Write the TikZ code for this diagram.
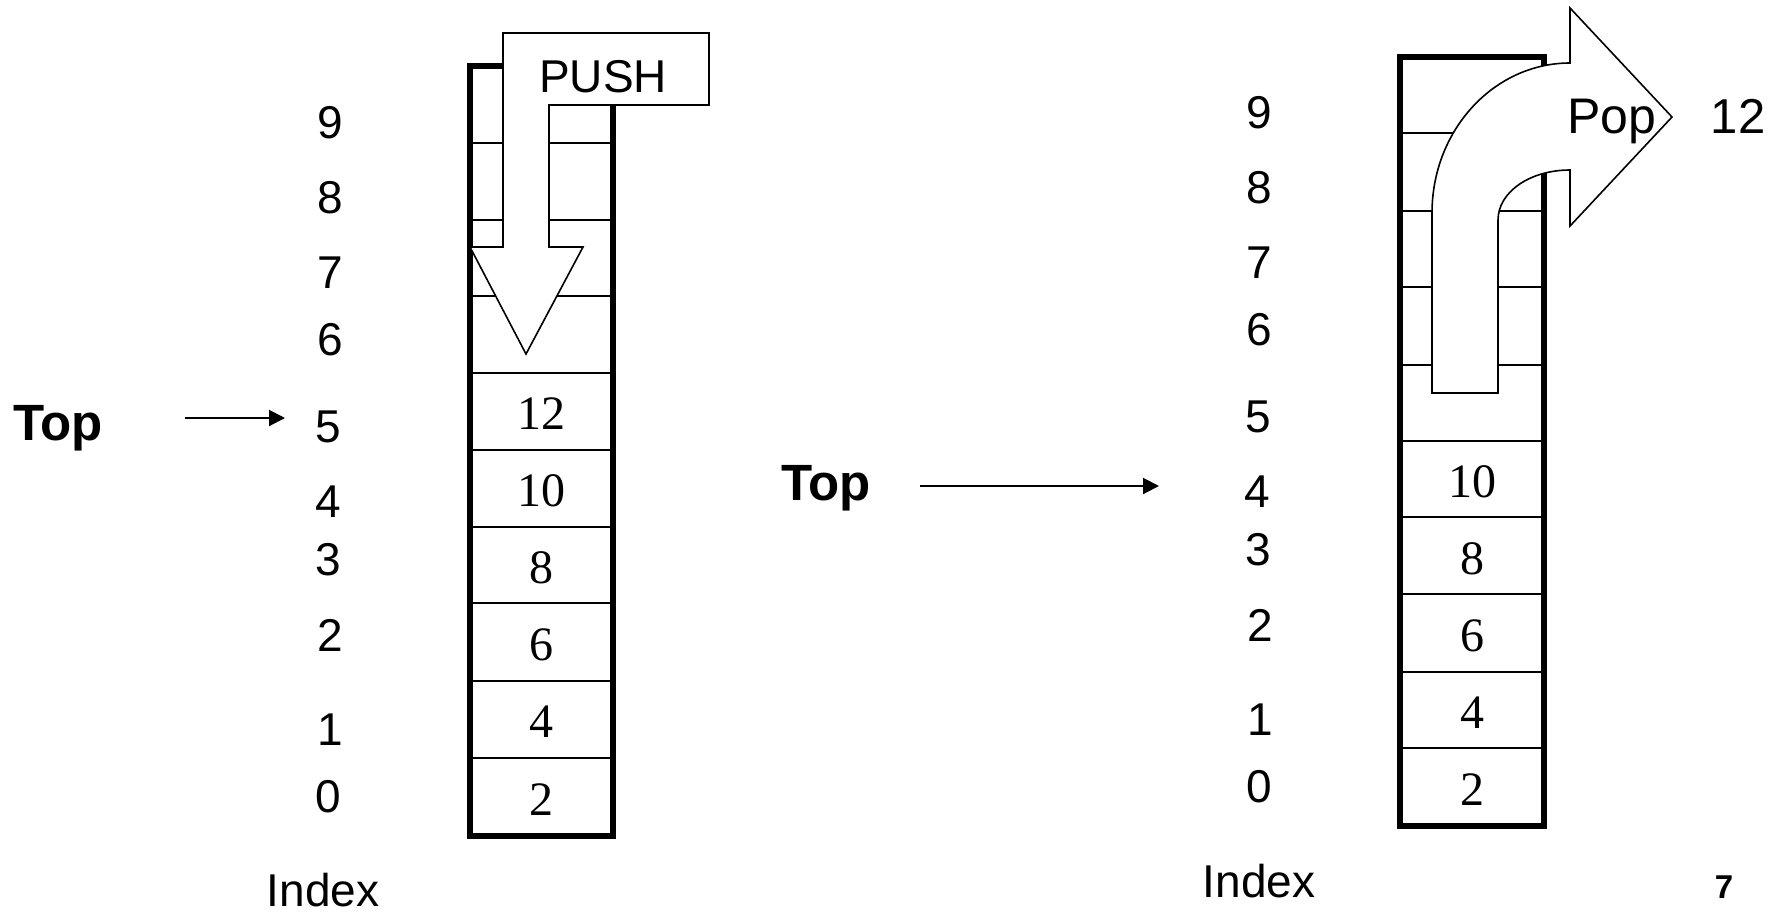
\documentclass[tikz,border=0pt]{standalone}
\usepackage{fontspec}
\setmainfont{Liberation Serif}
\setsansfont{Liberation Sans}
\usetikzlibrary{arrows.meta}
\begin{document}
\begin{tikzpicture}[x=0.5pt,y=-0.5pt,
  idx/.style={font=\sffamily\fontsize{23}{23}\selectfont, inner sep=0pt},
  val/.style={font=\rmfamily\fontsize{24}{24}\selectfont, inner sep=0pt},
  toplabel/.style={font=\sffamily\bfseries\fontsize{25.5}{25.5}\selectfont, inner sep=0pt, anchor=base},
  frame/.style={line width=2.8pt},
  cellline/.style={line width=1pt},
  bigarrow/.style={draw, fill=white, line width=0.8pt, line join=miter},
  pointer/.style={line width=1pt, -{Triangle[length=8pt,width=8pt]}}]

\useasboundingbox (0,0) rectangle (1781,911);

% ---------- left stack (before pop) ----------
\foreach \y in {143,220,296,373,450,527,603,681,758}
  \draw[cellline] (470,\y) -- (613,\y);
\draw[frame] (470,66) rectangle (613,836);

\node[val] (lv0) at (541.5,800) {2};
\node[val] (lv1) at (541.5,722) {4};
\node[val] (lv2) at (541.5,645) {6};
\node[val] (lv3) at (541.5,568) {8};
\node[val] (lv4) at (541.5,491) {10};
\node[val] (lv5) at (541.5,414) {12};

% index column
\node[idx] (li9) at (330,123) {9};
\node[idx] (li8) at (330,198) {8};
\node[idx] (li7) at (330,273) {7};
\node[idx] (li6) at (330,340) {6};
\node[idx] (li5) at (328,427) {5};
\node[idx] (li4) at (328,502) {4};
\node[idx] (li3) at (328,560) {3};
\node[idx] (li2) at (330,635) {2};
\node[idx] (li1) at (330,730) {1};
\node[idx] (li0) at (328,797) {0};
\node[idx] (lindex) at (323,890) {Index};

% top pointer
\node[toplabel] (ltop) at (58,440) {Top};
\coordinate (lp1) at (185,418);
\coordinate (lp2) at (285,418);
\draw[pointer] (lp1) -- (lp2);

% push arrow
\draw[bigarrow] (503,33) -- (709,33) -- (709,105) -- (549,105) -- (549,247)
  -- (583,247) -- (526,354) -- (470,247) -- (503,247) -- cycle;
\node[idx] (push) at (603,77) {PUSH};

% ---------- right stack (after pop) ----------
\foreach \y in {133,211,287,365,441,517,594,672,748}
  \draw[cellline] (1400,\y) -- (1544,\y);
\draw[frame] (1400,57) rectangle (1544,826);

\node[val] (rv0) at (1472,790) {2};
\node[val] (rv1) at (1472,713) {4};
\node[val] (rv2) at (1472,636) {6};
\node[val] (rv3) at (1472,559) {8};
\node[val] (rv4) at (1472,482) {10};

\node[idx] (ri9) at (1259,113) {9};
\node[idx] (ri8) at (1259,188) {8};
\node[idx] (ri7) at (1259,263) {7};
\node[idx] (ri6) at (1259,330) {6};
\node[idx] (ri5) at (1258,417) {5};
\node[idx] (ri4) at (1257,492) {4};
\node[idx] (ri3) at (1258,550) {3};
\node[idx] (ri2) at (1260,625) {2};
\node[idx] (ri1) at (1260,720) {1};
\node[idx] (ri0) at (1259,787) {0};
\node[idx] (rindex) at (1259,881) {Index};

\node[toplabel] (rtop) at (826,500) {Top};
\coordinate (rp1) at (920,486);
\coordinate (rp2) at (1159,486);
\draw[pointer] (rp1) -- (rp2);

% pop arrow
\draw[bigarrow] (1432,393) -- (1432,213)
  .. controls (1432,130) and (1494,63) .. (1570,63)
  -- (1570,8) -- (1672,117) -- (1570,226) -- (1570,170)
  .. controls (1530,170) and (1498,192) .. (1498,220)
  -- (1498,393) -- cycle;
\node[font=\sffamily\fontsize{25}{25}\selectfont, inner sep=0pt, anchor=base] (pop) at (1612,133) {Pop};
\node[font=\sffamily\fontsize{24.5}{24.5}\selectfont, inner sep=0pt] (popped) at (1738,116) {12};

% page number
\node[font=\sffamily\bfseries\fontsize{16.5}{16.5}\selectfont, inner sep=0pt] (pagenum) at (1724,887) {7};
\end{tikzpicture}
\end{document}
